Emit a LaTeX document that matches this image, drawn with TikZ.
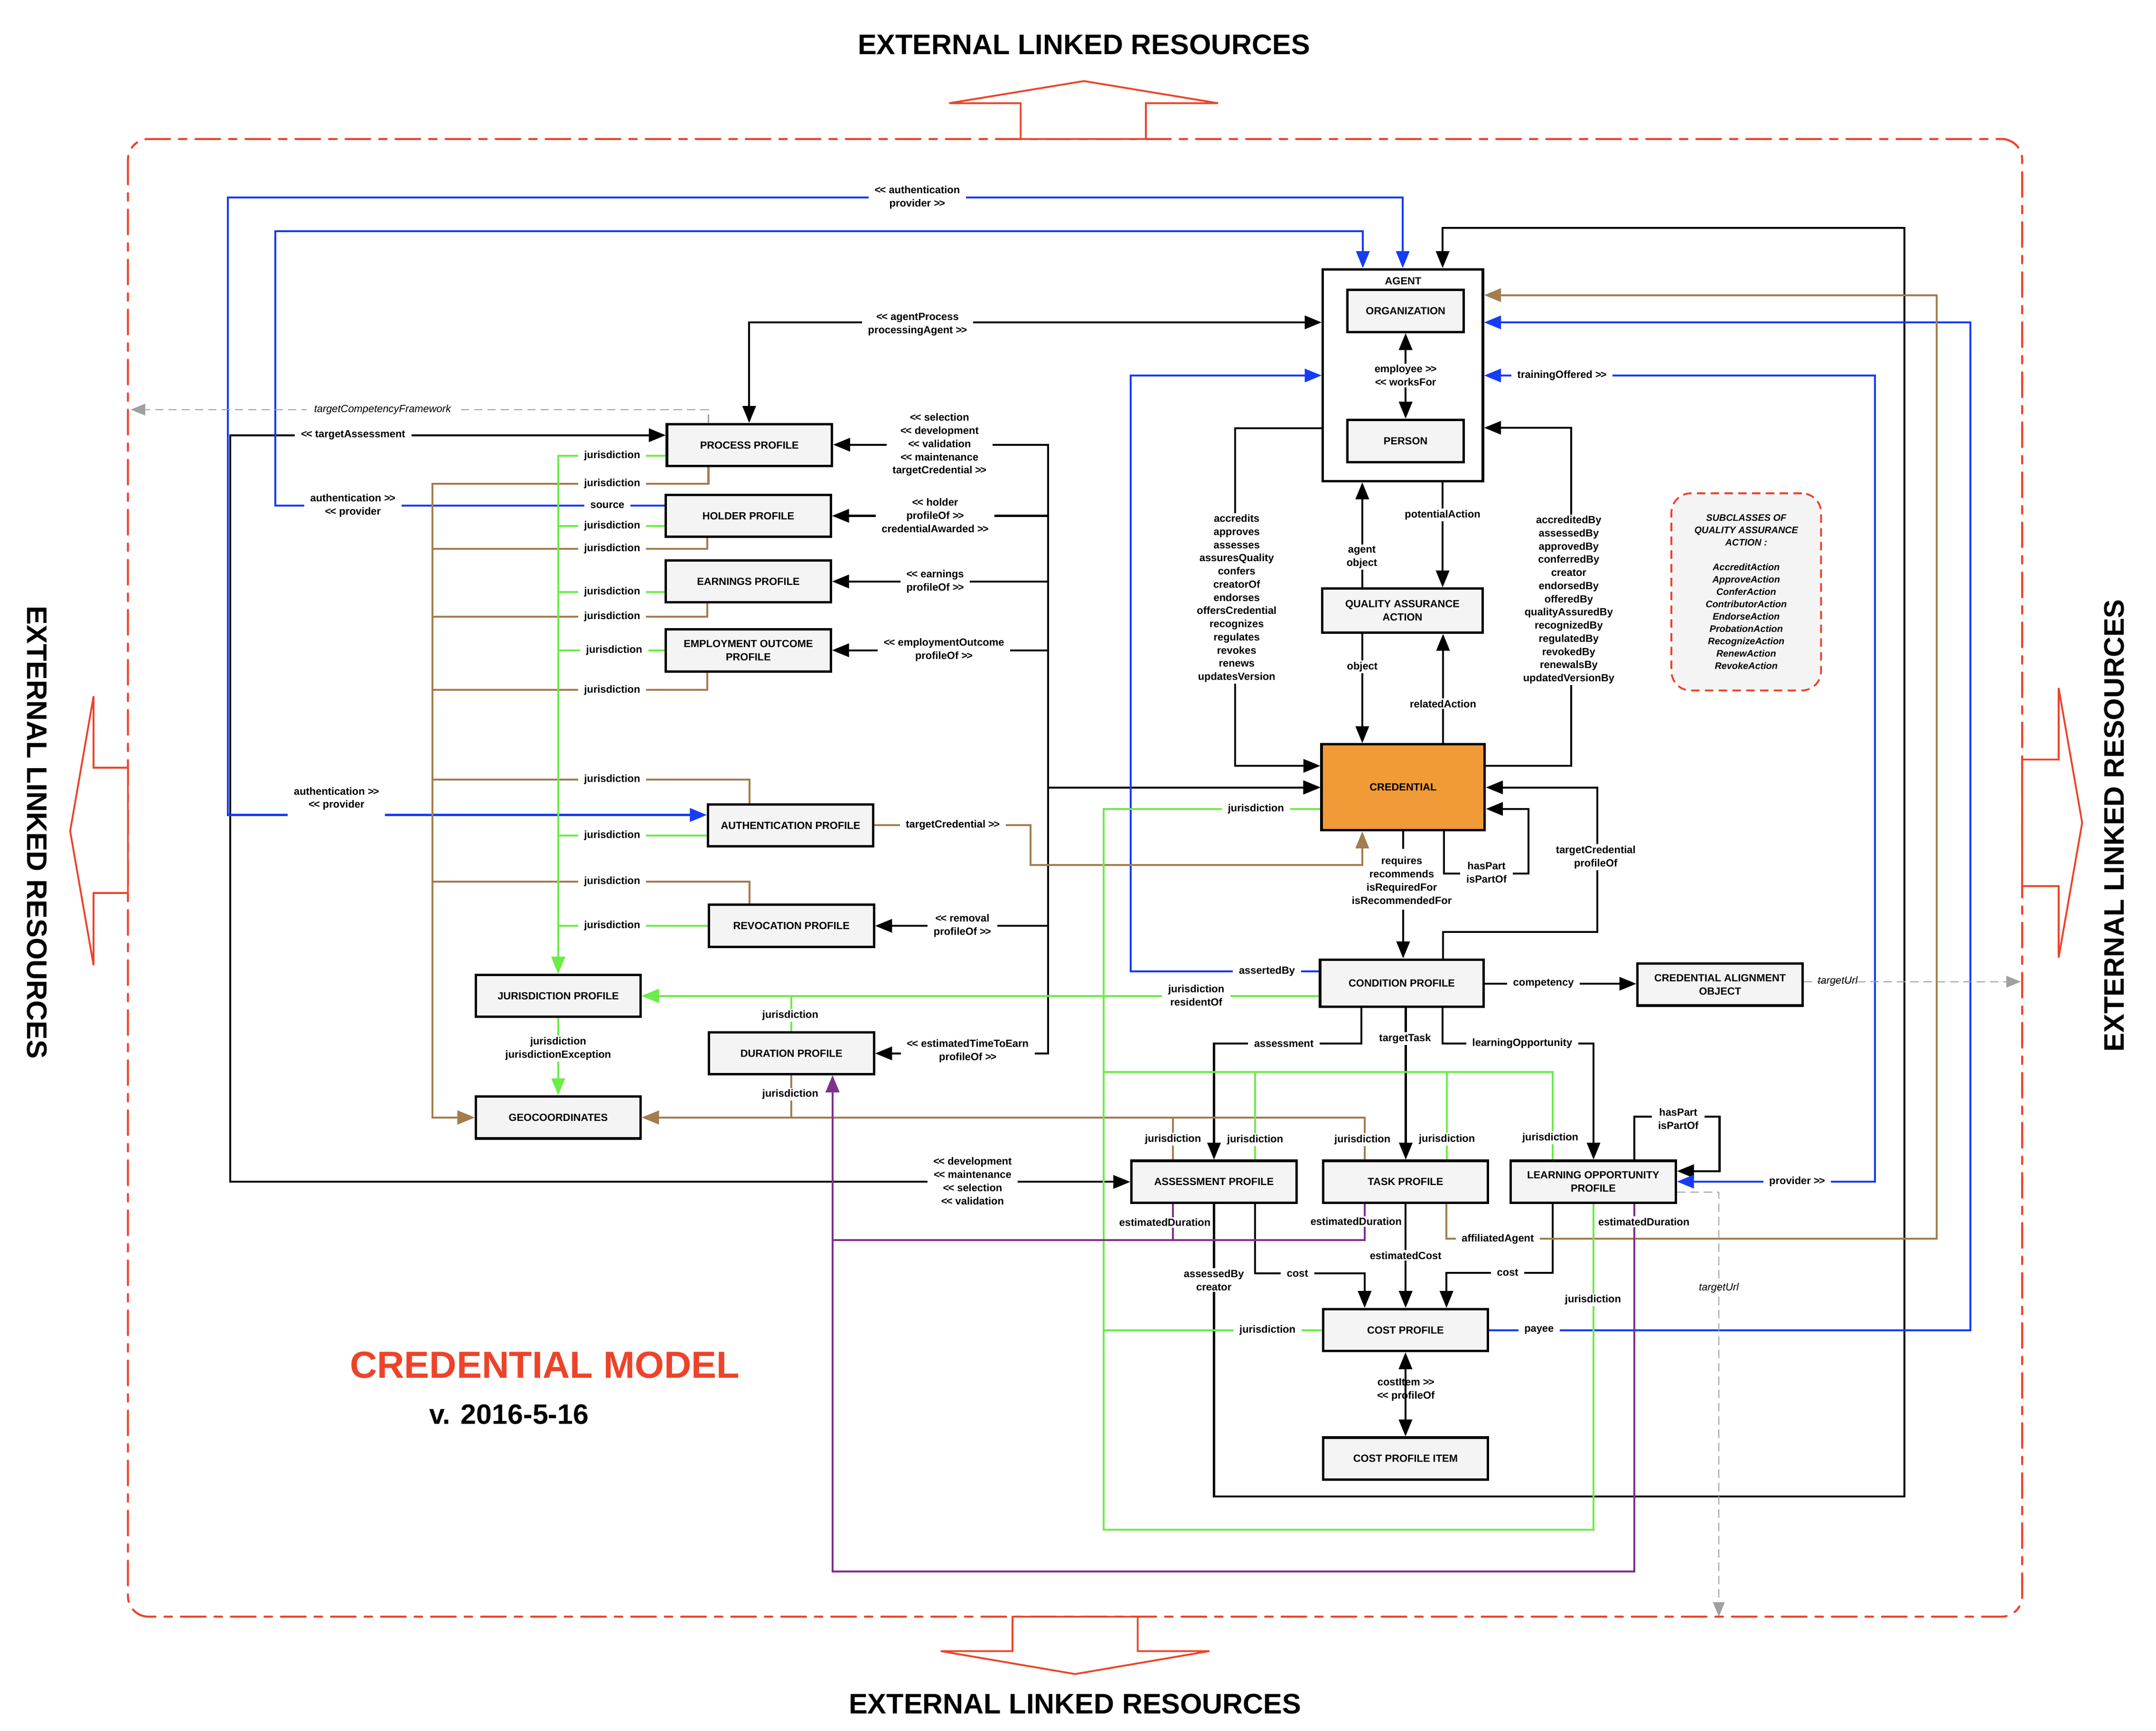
\documentclass[tikz,border=0pt]{standalone}
\usepackage{fontspec}
\setmainfont{Liberation Sans}
\usetikzlibrary{arrows.meta}
\definecolor{cred}{RGB}{236,68,42}
\definecolor{cblue}{RGB}{22,60,245}
\definecolor{cgreen}{RGB}{108,236,72}
\definecolor{cbrown}{RGB}{163,124,80}
\definecolor{cpurple}{RGB}{126,48,140}
\definecolor{cgray}{RGB}{160,160,160}
\definecolor{corange}{RGB}{240,154,56}
\definecolor{boxfill}{RGB}{244,244,244}
\newcommand{\LLq}{<\kern-0.35pt<}
\newcommand{\GGq}{>\kern-0.35pt>}
\newcommand{\lblfont}{\fontsize{4.3}{5.45}\selectfont\bfseries}
\newcommand{\xlrfont}{\fontsize{11.7}{14}\selectfont\bfseries}
\tikzset{
  pbox/.style={draw, line width=1pt, fill=boxfill, font=\lblfont, align=center, inner sep=1pt, minimum width=2.4cm, minimum height=0.61cm},
  lab/.style={font=\lblfont, align=center, fill=white, inner xsep=2.5pt, inner ysep=0.6pt},
  nlab/.style={font=\lblfont, align=center, inner sep=0.5pt},
  ilab/.style={font=\fontsize{4.3}{5.4}\selectfont\itshape, align=center, inner sep=0.5pt},
  blk/.style={draw=black, line width=0.8pt},
  blu/.style={draw=cblue, line width=0.8pt},
  grn/.style={draw=cgreen, line width=0.8pt},
  brn/.style={draw=cbrown, line width=0.8pt},
  pur/.style={draw=cpurple, line width=0.8pt},
  gry/.style={draw=cgray, line width=0.45pt, dash pattern=on 3.5pt off 2pt, -{Triangle[length=6pt,width=4.8pt]}},
  redarrow/.style={draw=cred, fill=white, line width=0.75pt, line join=miter},
  >={Triangle[length=7pt,width=5.5pt]},
}
\begin{document}
\begin{tikzpicture}[x=0.02cm, y=-0.02cm]
\useasboundingbox (0,0) rectangle (1567.3,1258.1);

% ---------- frame ----------
\draw[cred, line width=0.85pt, line cap=round, dash pattern=on 10.2pt off 3.7pt on 3.1pt off 3.7pt, rounded corners=0.3cm] (93,101) rectangle (1470,1175);
\draw[redarrow] (742,101) -- (742,75) -- (690,75) -- (788,58.9) -- (885.5,75) -- (833,75) -- (833,101) -- cycle;
\draw[redarrow] (736,1175) -- (736,1200) -- (683.8,1200) -- (781.5,1216.7) -- (879.2,1200) -- (827,1200) -- (827,1175) -- cycle;
\draw[redarrow] (93,558) -- (68,558) -- (68,506) -- (51,604) -- (68,701.5) -- (68,649) -- (93,649) -- cycle;
\draw[redarrow] (1470,552) -- (1496.5,552) -- (1496.5,500) -- (1513.6,598) -- (1496.5,696) -- (1496.5,644) -- (1470,644) -- cycle;
\node[font=\xlrfont] (ttop) at (788,32.5) {EXTERNAL LINKED RESOURCES};
\node[font=\xlrfont] (tbot) at (781.5,1238.4) {EXTERNAL LINKED RESOURCES};
\node[font=\xlrfont, rotate=-90] (tleft) at (27,605) {EXTERNAL LINKED RESOURCES};
\node[font=\xlrfont, rotate=90] (tright) at (1537,600) {EXTERNAL LINKED RESOURCES};
\node[font=\fontsize{15.6}{18}\selectfont\bfseries, text=cred] (title) at (396,992) {CREDENTIAL MODEL};
\node[font=\fontsize{11.6}{14}\selectfont\bfseries] (version) at (370,1028) {v. 2016-5-16};

% ---------- boxes ----------
\node[pbox] (process) at (544.8,323.5) {PROCESS PROFILE};
\node[pbox] (holder) at (544,374.9) {HOLDER PROFILE};
\node[pbox] (earnings) at (544,422.6) {EARNINGS PROFILE};
\node[pbox] (employment) at (544,472.7) {EMPLOYMENT OUTCOME\\PROFILE};
\node[pbox] (auth) at (574.7,599.9) {AUTHENTICATION PROFILE};
\node[pbox] (revocation) at (575.3,672.9) {REVOCATION PROFILE};
\node[pbox] (jurisdiction) at (405.8,723.8) {JURISDICTION PROFILE};
\node[pbox] (duration) at (575.3,765.5) {DURATION PROFILE};
\node[pbox] (geo) at (405.8,812.2) {GEOCOORDINATES};
\node[pbox, fill=white, minimum width=2.328cm, minimum height=3.08cm] (agent) at (1019.8,272.7) {};
\node[nlab] (agenttitle) at (1020,204.1) {AGENT};
\node[pbox, minimum width=1.69cm, minimum height=0.614cm] (organization) at (1021.8,225.9) {ORGANIZATION};
\node[pbox, minimum width=1.69cm, minimum height=0.614cm] (person) at (1021.8,320.5) {PERSON};
\node[pbox, minimum width=2.328cm, minimum height=0.64cm] (qaa) at (1019.5,443.8) {QUALITY ASSURANCE\\ACTION};
\node[pbox, fill=corange, minimum width=2.374cm, minimum height=1.248cm] (credential) at (1020,572.2) {CREDENTIAL};
\node[pbox, minimum width=2.376cm, minimum height=0.688cm] (condition) at (1019,714.6) {CONDITION PROFILE};
\node[pbox] (cao) at (1250.4,715.6) {CREDENTIAL ALIGNMENT\\OBJECT};
\node[pbox] (assessment) at (882.5,858.9) {ASSESSMENT PROFILE};
\node[pbox] (task) at (1021.7,858.9) {TASK PROFILE};
\node[pbox] (lop) at (1158.2,858.9) {LEARNING OPPORTUNITY\\PROFILE};
\node[pbox] (cost) at (1021.7,966.7) {COST PROFILE};
\node[pbox] (costitem) at (1021.7,1060.1) {COST PROFILE ITEM};
\node[draw=cred, dash pattern=on 3.5pt off 2.2pt, line width=0.75pt, fill=boxfill, rounded corners=0.28cm, minimum width=2.176cm, minimum height=2.866cm, align=center, font=\fontsize{3.9}{5.1}\selectfont\bfseries\itshape, inner sep=0pt] (subclasses) at (1269.4,430.2)
 {SUBCLASSES OF\\QUALITY ASSURANCE\\ACTION :\\[5.1pt]AccreditAction\\ApproveAction\\ConferAction\\ContributorAction\\EndorseAction\\ProbationAction\\RecognizeAction\\RenewAction\\RevokeAction};

% ---------- black connectors ----------
\draw[blk,<->] (process.west |- 0,316.3) -- (167.5,316.3) -- (167.5,859) -- (assessment.west |- 0,859);
\node[lab] (lk1) at (256.7,316.3) {\LLq{} targetAssessment};
\node[lab] (lk2) at (707,858.4) {\LLq{} development\\\LLq{} maintenance\\\LLq{} selection\\\LLq{} validation};

\draw[blk,<->] (544.6,0 |- process.north) |- (agent.west |- 0,234.3);
\node[lab] (lk3) at (667,235.7) {\LLq{} agentProcess\\processingAgent \GGq};

\draw[blk,<->] (process.east |- 0,323.2) -| (761.8,572.3) -- (credential.west |- 0,572.3);
\draw[blk,<->] (holder.east |- 0,374.9) -| (761.8,572.3) -- (credential.west |- 0,572.3);
\draw[blk,<->] (earnings.east |- 0,422.6) -| (761.8,572.3) -- (credential.west |- 0,572.3);
\draw[blk,<->] (employment.east |- 0,472.6) -| (761.8,572.3) -- (credential.west |- 0,572.3);
\draw[blk,<->] (revocation.east |- 0,672.9) -| (761.8,572.3) -- (credential.west |- 0,572.3);
\draw[blk,<->] (duration.east |- 0,765.6) -| (761.8,572.3) -- (credential.west |- 0,572.3);
\node[lab] (lk4) at (683,323.2) {\LLq{} selection\\\LLq{} development\\\LLq{} validation\\\LLq{} maintenance\\targetCredential \GGq};
\node[lab] (lk5) at (679.8,374.6) {\LLq{} holder\\profileOf \GGq\\credentialAwarded \GGq};
\node[lab] (lk6) at (679.8,422.6) {\LLq{} earnings\\profileOf \GGq};
\node[lab] (lk7) at (686.2,472.3) {\LLq{} employmentOutcome\\profileOf \GGq};
\node[lab] (lk8) at (699.6,672.9) {\LLq{} removal\\profileOf \GGq};
\node[lab] (lk9) at (703.5,764) {\LLq{} estimatedTimeToEarn\\profileOf \GGq};

\draw[blk,->] (agent.west |- 0,311.3) -| (897.8,556.6) -- (credential.west |- 0,556.6);
\node[lab] (lk10) at (899,434.9) {accredits\\approves\\assesses\\assuresQuality\\confers\\creatorOf\\endorses\\offersCredential\\recognizes\\regulates\\revokes\\renews\\updatesVersion};
\draw[blk,->] (credential.east |- 0,556.6) -| (1142,310.9) -- (agent.east |- 0,310.9);
\node[lab] (lk11) at (1140.4,436) {accreditedBy\\assessedBy\\approvedBy\\conferredBy\\creator\\endorsedBy\\offeredBy\\qualityAssuredBy\\recognizedBy\\regulatedBy\\revokedBy\\renewalsBy\\updatedVersionBy};

\draw[blk,->] (990.3,0 |- qaa.north) -- (990.3,0 |- agent.south);
\node[lab] (lk12) at (990,405) {agent\\object};
\draw[blk,->] (1048.7,0 |- agent.south) -- (1048.7,0 |- qaa.north);
\node[lab] (lk13) at (1048.7,374.3) {potentialAction};
\draw[blk,->] (990.3,0 |- qaa.south) -- (990.3,0 |- credential.north);
\node[lab] (lk14) at (990.3,484.6) {object};
\draw[blk,->] (1049,0 |- credential.north) -- (1049,0 |- qaa.south);
\node[lab] (lk15) at (1049,511.5) {relatedAction};
\draw[blk,<->] (organization.south) -- (person.north);
\node[lab] (lk16) at (1021.8,272.9) {employee \GGq\\\LLq{} worksFor};

\draw[blk,->] (1020,0 |- credential.south) -- (1020,617) (1020,661) -- (1020,0 |- condition.north);
\node[nlab] (lk17) at (1019,640) {requires\\recommends\\isRequiredFor\\isRecommendedFor};
\draw[blk,->] (1049.7,0 |- credential.south) |- (1111,635) |- (credential.east |- 0,587.9);
\node[lab] (lk18) at (1080.6,634.2) {hasPart\\isPartOf};
\draw[blk,->] (1049,0 |- condition.north) |- (1161,677.4) |- (credential.east |- 0,572.3);
\node[lab] (lk19) at (1160,623) {targetCredential\\profileOf};
\draw[blk,->] (condition.east |- 0,715) -- (cao.west |- 0,715);
\node[lab] (lk20) at (1122,715) {competency};
\draw[blk,->] (989.7,0 |- condition.south) |- (882.5,758.4) -- (882.5,0 |- assessment.north);
\node[lab] (lk21) at (933.3,758.5) {assessment};
\draw[blk,->] (1021.9,0 |- condition.south) -- (1021.9,0 |- task.north);
\node[lab] (lk22) at (1021.4,754.8) {targetTask};
\draw[blk,->] (1048.8,0 |- condition.south) |- (1158.4,758.5) -- (1158.4,0 |- lop.north);
\node[lab] (lk23) at (1106.6,758.5) {learningOpportunity};
\draw[blk,->] (1188,0 |- lop.north) |- (1250,811.6) |- (lop.east |- 0,851.2);
\node[lab] (lk24) at (1220,813.2) {hasPart\\isPartOf};
\draw[blk,->] (882.5,0 |- assessment.south) |- (1384.4,1087.5) |- (1048.7,165.6) -- (1048.7,0 |- agent.north);
\node[lab] (lk25) at (882.4,930.4) {assessedBy\\creator};
\draw[blk,->] (912.5,0 |- assessment.south) |- (992,925.6) -- (992,0 |- cost.north);
\node[lab] (lk26) at (943.2,925.6) {cost};
\draw[blk,->] (1021.8,0 |- task.south) -- (1021.8,0 |- cost.north);
\node[lab] (lk27) at (1021.8,912.4) {estimatedCost};
\draw[blk,->] (1128.7,0 |- lop.south) |- (1051.5,925) -- (1051.5,0 |- cost.north);
\node[lab] (lk28) at (1096,925) {cost};
\draw[blk,<->] (cost.south) -- (costitem.north);
\node[nlab] (lk29) at (1022,1010) {costItem \GGq\\\LLq{} profileOf};

% ---------- blue connectors ----------
\draw[blu,<->] (auth.west |- 0,592.3) -| (165.5,143.5) -| (1019.7,0 |- agent.north);
\node[lab] (lb1) at (666.8,143.5) {\LLq{} authentication\\provider \GGq};
\node[lab, inner ysep=2.6pt] (lb2) at (244.6,580.5) {authentication \GGq\\\LLq{} provider};
\draw[blu,->] (holder.west |- 0,367.4) -| (200,167.9) -| (990.7,0 |- agent.north);
\node[lab] (lb3) at (256.5,367.4) {authentication \GGq\\\LLq{} provider};
\node[lab] (lb4) at (441.5,367.4) {source};
\draw[blu,->] (condition.west |- 0,705.9) -| (822,272.9) -- (agent.west |- 0,272.9);
\node[lab] (lb5) at (921,705.9) {assertedBy};
\draw[blu,<->] (lop.east |- 0,858.8) -| (1363,272.9) -- (agent.east |- 0,272.9);
\node[lab] (lb6) at (1135.5,272.9) {trainingOffered \GGq};
\node[lab] (lb7) at (1306.4,858.8) {provider \GGq};
\draw[blu,->] (cost.east) -| (1432.4,234.3) -- (agent.east |- 0,234.3);
\node[lab] (lb8) at (1118.8,966.7) {payee};

% ---------- brown connectors ----------
\draw[brn,->] (1051.5,0 |- task.south) |- (1407.9,900.4) |- (agent.east |- 0,214.5);
\node[lab] (lr1) at (1088.8,900.4) {affiliatedAgent};
\draw[brn,->] (auth.east |- 0,599.7) -| (749,628.8) -| (990.3,0 |- credential.south);
\node[lab] (lr2) at (692.6,599.7) {targetCredential \GGq};
\draw[brn,->] (515,0 |- process.south) |- (314.2,351.7) |- (geo.west);
\draw[brn,->] (514,0 |- holder.south) |- (314.2,398.9) |- (geo.west);
\draw[brn,->] (514,0 |- earnings.south) |- (314.2,448.2) |- (geo.west);
\draw[brn,->] (514,0 |- employment.south) |- (314.2,501.5) |- (geo.west);
\draw[brn,->] (545,0 |- auth.north) |- (314.2,566.5) |- (geo.west);
\draw[brn,->] (545,0 |- revocation.north) |- (314.2,640.7) |- (geo.west);
\foreach \yy [count=\i from 3] in {351.7,398.9,448.2,501.5,566.5,640.7}
  \node[lab] (lr\i) at (445,\yy) {jurisdiction};
\draw[brn,->] (991.9,0 |- task.north) |- (geo.east);
\draw[brn,->] (852.7,0 |- assessment.north) |- (geo.east);
\draw[brn,->] (575.3,0 |- duration.south) |- (geo.east);
\node[lab] (lr9) at (852.7,828) {jurisdiction};
\node[lab] (lr10) at (990.4,828.3) {jurisdiction};
\node[lab] (lr11) at (574.5,795.4) {jurisdiction};

% ---------- green connectors ----------
\draw[grn,->] (process.west |- 0,331.1) -| (jurisdiction.north);
\draw[grn,->] (holder.west |- 0,382.4) -| (jurisdiction.north);
\draw[grn,->] (earnings.west |- 0,430.2) -| (jurisdiction.north);
\draw[grn,->] (employment.west |- 0,472.8) -| (jurisdiction.north);
\draw[grn,->] (auth.west |- 0,607.4) -| (jurisdiction.north);
\draw[grn,->] (revocation.west |- 0,672.9) -| (jurisdiction.north);
\foreach \yy/\xx [count=\i] in {331.1/445,382.4/445,430.2/445,472.8/446.5,607.4/445,672.9/445}
  \node[lab] (lg\i) at (\xx,\yy) {jurisdiction};
\draw[grn,->] (condition.west |- 0,723.8) -- (jurisdiction.east);
\node[lab] (lg7) at (869.6,723.6) {jurisdiction\\residentOf};
\draw[grn,->] (575.3,0 |- duration.north) |- (jurisdiction.east);
\node[lab] (lg8) at (574.5,738) {jurisdiction};
\draw[grn,->] (jurisdiction.south) -- (geo.north);
\node[lab] (lg9) at (405.8,762.1) {jurisdiction\\jurisdictionException};
\draw[grn,->] (credential.west |- 0,587.9) -| (802.3,723.8) -- (jurisdiction.east);
\node[lab] (lg10) at (913,587.9) {jurisdiction};
\draw[grn,->] (1158.4,0 |- lop.south) |- (802.3,1111.8) -- (802.3,723.8) -- (jurisdiction.east);
\node[lab] (lg11) at (1158,944.8) {jurisdiction};
\draw[grn,->] (1128.7,0 |- lop.north) |- (802.3,779.1) -- (802.3,723.8) -- (jurisdiction.east);
\draw[grn,->] (912.5,0 |- assessment.north) |- (802.3,779.1) -- (802.3,723.8) -- (jurisdiction.east);
\draw[grn,->] (1051.6,0 |- task.north) |- (802.3,779.1) -- (802.3,723.8) -- (jurisdiction.east);
\draw[grn,->] (cost.west) -| (802.3,723.8) -- (jurisdiction.east);
\node[lab] (lg12) at (912.4,828.3) {jurisdiction};
\node[lab] (lg13) at (1051.8,828) {jurisdiction};
\node[lab] (lg14) at (1127,826.9) {jurisdiction};
\node[lab] (lg15) at (921.4,966.9) {jurisdiction};

% ---------- purple connectors ----------
\draw[pur,->] (1188,0 |- lop.south) |- (605.2,1142) -- (605.2,0 |- duration.south);
\draw[pur,->] (852.7,0 |- assessment.south) |- (605.2,901.2) -- (605.2,0 |- duration.south);
\draw[pur,->] (992,0 |- task.south) |- (605.2,901.2) -- (605.2,0 |- duration.south);
\node[lab, inner xsep=0.6pt] (lp1) at (846.8,888.4) {estimatedDuration};
\node[lab, inner xsep=0.6pt] (lp2) at (985.8,887.8) {estimatedDuration};
\node[lab, inner xsep=0.6pt] (lp3) at (1195,888) {estimatedDuration};

% ---------- gray dashed connectors ----------
\coordinate (edgeL) at (95,297.7);
\coordinate (edgeR) at (1469,713.5);
\coordinate (edgeB) at (1249.5,1175);
\draw[gry] (515,0 |- process.north) |- (edgeL);
\node[ilab, fill=white, inner xsep=3pt] (lt1) at (278.1,297.7) {targetCompetencyFramework};
\draw[gry] (cao.east |- 0,713.5) -- (edgeR);
\node[ilab] (lt2) at (1335.9,713.2) {targetUrl};
\draw[gry] (lop.east |- 0,866.4) -| (edgeB);
\node[ilab] (lt3) at (1249.5,936) {targetUrl};
\end{tikzpicture}
\end{document}
